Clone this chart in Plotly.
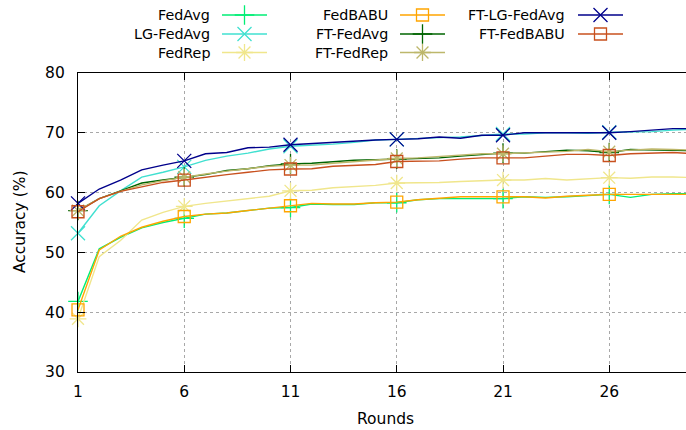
import plotly.graph_objects as go

rounds = list(range(1, 31))

fedavg = [41.8, 50.6, 52.5, 54.1, 55.0, 55.7, 56.4, 56.6, 57.0, 57.4,
          57.5, 58.1, 58.0, 58.0, 58.3, 58.3, 58.8, 59.0, 59.0, 59.0,
          59.0, 59.3, 59.2, 59.3, 59.55, 59.7, 59.2, 59.7, 59.8, 59.8]
lg_fedavg = [53.2, 57.8, 60.3, 62.6, 63.4, 64.3, 65.4, 66.1, 66.6, 67.3,
             67.75, 67.9, 68.1, 68.4, 68.8, 68.9, 69.1, 69.2, 69.3, 69.6,
             69.8, 69.8, 70.0, 70.0, 69.9, 70.1, 70.1, 70.2, 70.45, 70.6]
fedrep = [38.9, 49.3, 52.0, 55.4, 56.7, 57.7, 58.2, 58.6, 59.0, 59.4,
          60.3, 60.4, 60.8, 61.0, 61.2, 61.6, 61.6, 61.7, 61.85, 62.0,
          62.1, 62.1, 62.35, 62.1, 62.35, 62.5, 62.4, 62.6, 62.6, 62.5]
fedbabu = [40.4, 50.4, 52.7, 54.2, 55.2, 56.0, 56.4, 56.6, 57.0, 57.4,
           57.8, 58.2, 58.1, 58.1, 58.3, 58.4, 58.8, 59.0, 59.3, 59.3,
           59.3, 59.3, 59.1, 59.4, 59.55, 59.7, 59.7, 59.7, 59.7, 59.7]
ft_fedavg = [57.0, 59.0, 60.3, 61.6, 62.1, 62.6, 63.0, 63.7, 64.0, 64.5,
             64.8, 64.9, 65.2, 65.4, 65.5, 65.6, 65.7, 65.8, 66.1, 66.3,
             66.6, 66.6, 66.85, 67.1, 67.0, 66.7, 67.2, 67.1, 67.0, 67.0]
ft_fedrep = [57.0, 59.0, 60.2, 61.3, 62.0, 62.6, 63.1, 63.6, 64.0, 64.4,
             64.6, 64.6, 64.9, 65.2, 65.5, 65.7, 65.8, 66.0, 66.2, 66.5,
             66.5, 66.6, 66.7, 66.9, 67.2, 66.85, 67.1, 67.3, 67.2, 67.1]
ft_lg_fedavg = [58.2, 60.6, 62.1, 63.8, 64.6, 65.3, 66.5, 66.7, 67.5, 67.6,
                68.0, 68.2, 68.4, 68.7, 68.8, 68.9, 69.0, 69.3, 69.1, 69.6,
                69.6, 70.0, 70.0, 69.9, 70.0, 70.0, 70.2, 70.45, 70.7, 70.7]
ft_fedbabu = [56.8, 59.0, 60.2, 61.0, 61.7, 62.1, 62.6, 63.0, 63.4, 63.8,
              63.95, 64.0, 64.4, 64.6, 64.7, 65.2, 65.3, 65.3, 65.6, 65.8,
              65.8, 65.8, 66.1, 66.4, 66.4, 66.2, 66.5, 66.6, 66.7, 66.5]

names = ["FedAvg", "LG-FedAvg", "FedRep", "FedBABU",
         "FT-FedAvg", "FT-FedRep", "FT-LG-FedAvg", "FT-FedBABU"]
values = [fedavg, lg_fedavg, fedrep, fedbabu,
          ft_fedavg, ft_fedrep, ft_lg_fedavg, ft_fedbabu]
colors = ["#00ee76", "#40e0d0", "#f0e68c", "#ffa500",
          "#006400", "#bdb76b", "#00008b", "#c8501e"]
symbols = ["cross-thin-open", "x-thin-open", "asterisk-open", "square-open",
           "cross-thin-open", "asterisk-open", "x-thin-open", "square-open"]
sizes = [14, 14, 14, 12, 14, 14, 14, 12]

x_ticks = [1, 6, 11, 16, 21, 26]
y_ticks = [30, 40, 50, 60, 70, 80]

FONT = "DejaVu Sans"
W, H = 686, 430
L, B = 78, 58
TOP = 73
plot_h = H - B
ydom_top = (plot_h - TOP) / plot_h

fig = go.Figure()

for name, ys, col, sym, sz in zip(names, values, colors, symbols, sizes):
    fig.add_trace(go.Scatter(
        x=rounds, y=ys, mode="lines", name=name,
        line=dict(color=col, width=1.4), showlegend=False, hoverinfo="skip"))
    fig.add_trace(go.Scatter(
        x=rounds[::5], y=ys[::5], mode="markers", name=name,
        marker=dict(symbol=sym, size=sz, color=col,
                    line=dict(color=col, width=1.3)),
        showlegend=False, cliponaxis=False, hoverinfo="skip"))

# manual gnuplot-style key
col_pos = [(212, 222, 267), (390, 400, 445), (567, 578, 623)]
row_y = [15, 34, 52.5]
annotations = []
for i, (name, col, sym, sz) in enumerate(zip(names, colors, symbols, sizes)):
    tx, x0, x1 = col_pos[i // 3]
    yy = row_y[i % 3]
    fig.add_trace(go.Scatter(
        x=[x0, x1], y=[yy, yy], mode="lines", xaxis="x2", yaxis="y2",
        line=dict(color=col, width=1.4), showlegend=False, hoverinfo="skip"))
    fig.add_trace(go.Scatter(
        x=[(x0 + x1) / 2], y=[yy], mode="markers", xaxis="x2", yaxis="y2",
        marker=dict(symbol=sym, size=sz, color=col, line=dict(color=col, width=1.3)),
        showlegend=False, cliponaxis=False, hoverinfo="skip"))
    annotations.append(dict(
        x=tx, y=yy, xref="x2", yref="y2", text=name, showarrow=False,
        xanchor="right", yanchor="middle",
        font=dict(family=FONT, size=14.3, color="#000")))

annotations.append(dict(
    x=(385 - L) / (W - L), y=0, xref="paper", yref="paper", yshift=-47,
    text="Rounds", showarrow=False, xanchor="center", yanchor="middle",
    font=dict(family=FONT, size=15.5, color="#000")))
annotations.append(dict(
    x=(20 - L) / (W - L), y=(plot_h - 222) / plot_h, xref="paper", yref="paper",
    text="Accuracy (%)", showarrow=False, textangle=-90,
    xanchor="center", yanchor="middle",
    font=dict(family=FONT, size=15.5, color="#000")))

x_max = 1 + (W - L) / 21.25

fig.update_layout(
    width=W, height=H,
    margin=dict(l=L, r=0, t=0, b=B, pad=0, autoexpand=False),
    paper_bgcolor="white", plot_bgcolor="white",
    font=dict(family=FONT, size=15.5, color="#000"),
    showlegend=False,
    annotations=annotations,
    xaxis=dict(
        range=[1, x_max], tickvals=x_ticks, ticktext=[str(v) for v in x_ticks],
        showgrid=True, gridcolor="#a8a8a8", griddash="dot", gridwidth=1,
        showline=True, linecolor="#000", linewidth=1.2, mirror="ticks",
        ticks="inside", ticklen=7, tickcolor="#000", tickwidth=1,
        ticklabelstandoff=5, zeroline=False, anchor="y", domain=[0, 1],
        automargin=False),
    yaxis=dict(
        range=[30, 80], tickvals=y_ticks, ticktext=[str(v) for v in y_ticks],
        showgrid=True, gridcolor="#a8a8a8", griddash="dot", gridwidth=1,
        showline=True, linecolor="#000", linewidth=1.2, mirror=False,
        ticks="inside", ticklen=7, tickcolor="#000", tickwidth=1,
        ticklabelstandoff=9, zeroline=False, anchor="x", domain=[0, ydom_top],
        automargin=False),
    xaxis2=dict(range=[L, W], domain=[0, 1], anchor="y2", visible=False,
                fixedrange=True, automargin=False),
    yaxis2=dict(range=[TOP, 0], domain=[ydom_top, 1], anchor="x2", visible=False,
                fixedrange=True, automargin=False),
)

fig.write_html("out.html")
